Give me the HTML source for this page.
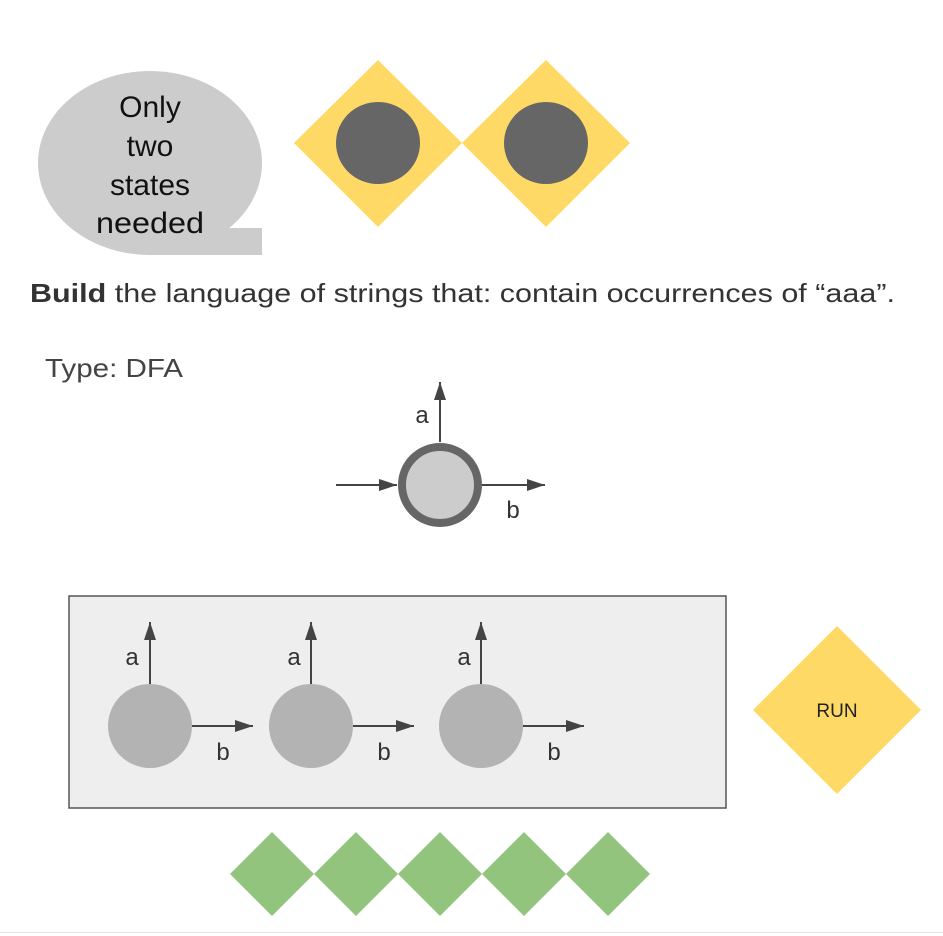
<!DOCTYPE html>
<html><head><meta charset="utf-8"><style>
html,body{margin:0;padding:0;background:#fff;}
svg{display:block;}
text{font-family:"Liberation Sans",sans-serif;}
</style></head><body>
<svg width="943" height="936" viewBox="0 0 943 936" xmlns="http://www.w3.org/2000/svg">
<defs>
<marker id="a2" viewBox="0 0 10 10" markerWidth="18" markerHeight="12" refX="10" refY="5" orient="auto" markerUnits="userSpaceOnUse" preserveAspectRatio="none">
<path d="M0,0 L10,5 L0,10 z" fill="#444"/>
</marker>
</defs>
<!-- bubble -->
<ellipse cx="150" cy="163" rx="112" ry="92" fill="#cccccc"/>
<rect x="150" y="228" width="112" height="27" fill="#cccccc"/>
<g font-size="30" fill="#111" text-anchor="middle">
<text x="150" y="117">Only</text>
<text x="150" y="156">two</text>
<text x="150" y="195">states</text>
<text x="150" y="233" textLength="108" lengthAdjust="spacingAndGlyphs">needed</text>
</g>
<!-- yellow diamonds -->
<polygon points="378,60 462,143 378,227 294,143" fill="#ffd966"/>
<polygon points="546,60 630,143 546,227 462,143" fill="#ffd966"/>
<ellipse cx="378" cy="143" rx="42" ry="41" fill="#666"/>
<ellipse cx="546" cy="143" rx="42" ry="41" fill="#666"/>
<!-- text -->
<text x="30" y="302" font-size="26" fill="#333" textLength="865" lengthAdjust="spacingAndGlyphs"><tspan font-weight="bold">Build</tspan> the language of strings that: contain occurrences of  “aaa”.</text>
<text x="45" y="377" font-size="26" fill="#444" textLength="138" lengthAdjust="spacingAndGlyphs">Type: DFA</text>
<!-- start state -->
<line x1="336" y1="485" x2="397" y2="485" stroke="#444" stroke-width="2" marker-end="url(#a2)"/>
<line x1="440" y1="442" x2="440" y2="382" stroke="#444" stroke-width="2" marker-end="url(#a2)"/>
<line x1="482" y1="485" x2="545" y2="485" stroke="#444" stroke-width="2" marker-end="url(#a2)"/>
<circle cx="440" cy="485" r="38" fill="#ccc" stroke="#666" stroke-width="8"/>
<text x="422" y="423" font-size="24" fill="#333" text-anchor="middle">a</text>
<text x="513" y="518" font-size="24" fill="#333" text-anchor="middle">b</text>
<!-- box -->
<rect x="69" y="596" width="657" height="212" fill="#eeeeee" stroke="#555" stroke-width="1.5"/>
<g stroke="#444" stroke-width="2">
<line x1="150" y1="684" x2="150" y2="622" marker-end="url(#a2)"/>
<line x1="192" y1="726" x2="253" y2="726" marker-end="url(#a2)"/>
<line x1="311" y1="684" x2="311" y2="622" marker-end="url(#a2)"/>
<line x1="353" y1="726" x2="414" y2="726" marker-end="url(#a2)"/>
<line x1="481" y1="684" x2="481" y2="622" marker-end="url(#a2)"/>
<line x1="523" y1="726" x2="584" y2="726" marker-end="url(#a2)"/>
</g>
<circle cx="150" cy="726" r="42" fill="#b3b3b3"/>
<circle cx="311" cy="726" r="42" fill="#b3b3b3"/>
<circle cx="481" cy="726" r="42" fill="#b3b3b3"/>
<g font-size="24" fill="#333" text-anchor="middle">
<text x="132" y="665">a</text><text x="223" y="760">b</text>
<text x="294" y="665">a</text><text x="384" y="760">b</text>
<text x="464" y="665">a</text><text x="554" y="760">b</text>
</g>
<!-- RUN -->
<polygon points="837,626 921,710 837,794 753,710" fill="#ffd966"/>
<text x="837" y="717" font-size="19" fill="#222" text-anchor="middle">RUN</text>
<!-- green -->
<g fill="#93c47d">
<polygon points="272,832 314,874 272,916 230,874"/>
<polygon points="356,832 398,874 356,916 314,874"/>
<polygon points="440,832 482,874 440,916 398,874"/>
<polygon points="524,832 566,874 524,916 482,874"/>
<polygon points="608,832 650,874 608,916 566,874"/>
</g>
<line x1="0" y1="932.5" x2="943" y2="932.5" stroke="#e5e5e5" stroke-width="1"/>
</svg>
</body></html>
